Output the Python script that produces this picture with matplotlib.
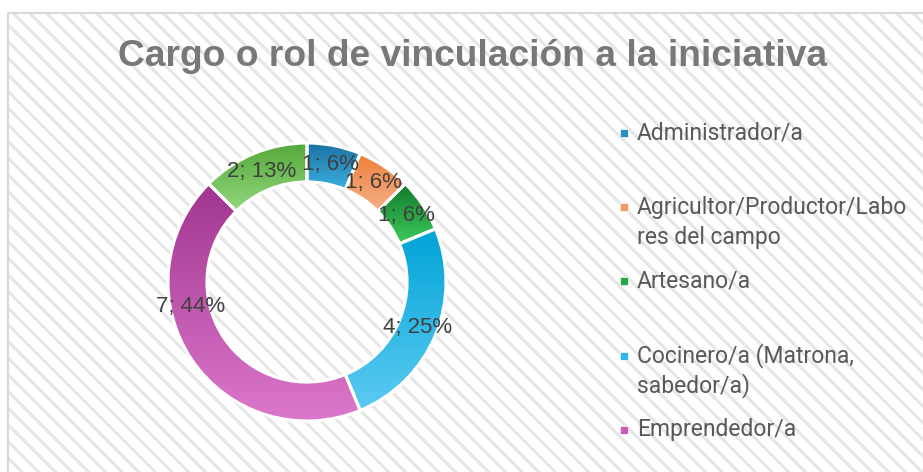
import numpy as np
import matplotlib
matplotlib.use("Agg")
import matplotlib.pyplot as plt
from matplotlib.patches import Rectangle
from matplotlib.colors import to_rgb

# data
categories = ["Administrador/a", "Agricultor/Productor/Labores del campo", "Artesano/a",
              "Cocinero/a (Matrona, sabedor/a)", "Emprendedor/a", "Otro/a"]
counts = [1, 1, 1, 4, 7, 2]
legend_lines = [["Administrador/a"], ["Agricultor/Productor/Labo", "res del campo"],
                ["Artesano/a"], ["Cocinero/a (Matrona,", "sabedor/a)"], ["Emprendedor/a"]]
title = "Cargo o rol de vinculación a la iniciativa"

# styles (gradient top -> bottom, plus flat colour for legend keys)
grad_top = ["#1b72a2", "#ee8038", "#137a2a", "#00a3d6", "#a1358f", "#54a83a"]
grad_bot = ["#3cb0e0", "#f5b088", "#3ccc5e", "#5ccbf2", "#dc78cc", "#92d87c"]
key_col = ["#2a8ec0", "#f29a62", "#27a847", "#30b5e6", "#c95ab8", "#76c45a"]
label_shift = {4: -21.75}

W, H = 923, 472
plt.rcParams['hatch.linewidth'] = 2.2
fig = plt.figure(figsize=(W / 100, H / 100), dpi=100)
fig.patch.set_facecolor("white")

# chart area with diagonal pattern
fig.add_artist(Rectangle((8 / W, -0.1), 1.2, (H - 13) / H + 0.1, transform=fig.transFigure,
                         facecolor="white", edgecolor="#e6e6e6", hatch="\\\\", lw=0, zorder=0))
fig.add_artist(Rectangle((8 / W, -0.1), 1.2, (H - 13) / H + 0.1, transform=fig.transFigure,
                         facecolor="none", edgecolor="#d9d9d9", lw=1.5, zorder=0.5))

fig.text(473 / W, 1 - 57 / H, title, ha="center", va="center", fontsize=26.7,
         fontweight="bold", color="#787878", family="Liberation Sans")

# donut axes: centre (307, 282) px, radius 139 px
R = 139
lim = 1.1
side = 2 * lim * R
ax = fig.add_axes([(307 - side / 2) / W, (H - 282 - side / 2) / H, side / W, side / H])
ax.patch.set_visible(False)

wedges, _ = ax.pie(counts, startangle=90, counterclock=False,
                   wedgeprops=dict(width=0.28, edgecolor="white", linewidth=2.2))

total = sum(counts)
for i, w in enumerate(wedges):
    bb = w.get_path().get_extents()
    c0 = np.array(to_rgb(grad_top[i]))
    c1 = np.array(to_rgb(grad_bot[i]))
    t = np.linspace(0, 1, 256)[:, None, None]
    grad = c0 * (1 - t) + c1 * t
    im = ax.imshow(grad, extent=(bb.x0, bb.x1, bb.y0, bb.y1), origin="upper",
                   aspect="auto", zorder=1)
    im.set_clip_path(w)
    w.set_facecolor("none")
    w.set_zorder(2)

    ang = np.deg2rad((w.theta1 + w.theta2) / 2 + label_shift.get(i, 0))
    pct = int(counts[i] / total * 100 + 0.5)
    ax.text(0.86 * np.cos(ang), 0.86 * np.sin(ang), f"{counts[i]}; {pct}%",
            ha="center", va="center", fontsize=16, color="#404040",
            family="Liberation Sans", zorder=3)

ax.set_xlim(-lim, lim)
ax.set_ylim(-lim, lim)
ax.set_aspect("equal")
ax.axis("off")

# legend drawn as in the original (uniform slots, wrapped text)
slot_y = 133
for i, lines in enumerate(legend_lines):
    y = slot_y + i * 74.2
    fig.add_artist(Rectangle((620 / W, 1 - (y + 4) / H), 8 / W, 8 / H,
                             transform=fig.transFigure, facecolor=key_col[i],
                             edgecolor="white", lw=0.5))
    for j, line in enumerate(lines):
        fig.text(637 / W, 1 - (y + j * 30) / H, line, ha="left", va="center",
                 fontsize=16.5, color="#595959", family="Roboto")

fig.savefig("out.png", dpi=100)
